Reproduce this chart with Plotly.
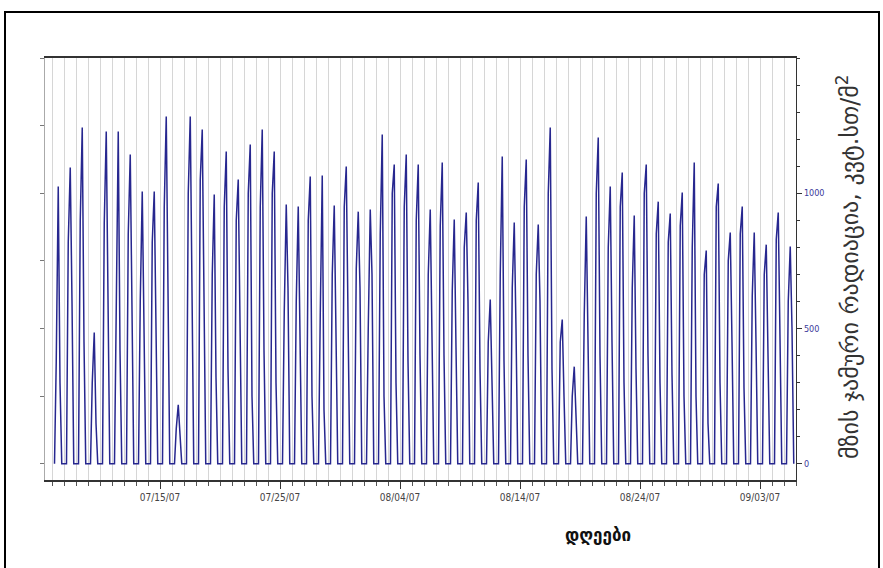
import plotly.graph_objects as go
import pandas as pd

# ---- data ----
first_day = "2007-07-06"
peak = [1025, 1095, 1243, 485, 1228, 1228, 1143, 1006, 1006, 1284, 218, 1284, 1236, 995, 1154,
        1051, 1180, 1236, 1154, 958, 951, 1062, 1066, 955, 1099, 932, 940, 1217, 1106, 1143, 1106,
        940, 1114, 903, 929, 1040, 607, 1136, 892, 1125, 884, 1243, 533, 359, 914, 1206,
        1025, 1077, 918, 1106, 969, 925, 1003, 1114, 788, 1036, 855, 951, 855, 810, 929, 803]
morning = [380, 820, 900, 300, 890, 700, 850, 600, 820, 950, 130, 1000, 1050, 700, 950,
           900, 1000, 950, 1000, 560, 600, 900, 550, 700, 950, 720, 500, 850, 1000, 950, 900,
           700, 880, 640, 800, 900, 450, 700, 650, 950, 700, 1000, 450, 250, 550, 1000,
           800, 950, 650, 1000, 850, 820, 880, 800, 700, 950, 750, 850, 620, 700, 830, 600]
afternoon = [300, 600, 450, 150, 500, 420, 520, 550, 380, 700, 90, 480, 700, 320, 350,
             400, 250, 420, 300, 650, 520, 250, 200, 400, 550, 650, 700, 250, 300, 380, 400,
             420, 400, 430, 600, 350, 250, 380, 500, 400, 600, 350, 250, 150, 420, 400,
             450, 300, 350, 400, 300, 330, 250, 250, 150, 300, 450, 280, 450, 350, 350, 500]

x_tick_start = "2007-07-15"
x_range = ["2007-07-05 10:00", "2007-09-06 00:00"]
y_ticks = [0, 500, 1000]

x_title = "დღეები"
y_title = "მზის ჯამური რადიაცია, კვტ.სთ/მ<sup>2</sup>"

# ---- build the daily series ----
days = pd.date_range(first_day, periods=len(peak), freq="D")
hours = [5.0, 8.5, 12.5, 16.0, 19.5]
xs, ys = [], []
for d, m, p, a in zip(days, morning, peak, afternoon):
    vals = [0, m, p, a, 0]
    for h, v in zip(hours, vals):
        xs.append(d + pd.Timedelta(hours=h))
        ys.append(v)

fig = go.Figure()
fig.add_trace(go.Scatter(x=xs, y=ys, mode="lines",
                         line=dict(color="#27278f", width=1.5),
                         hoverinfo="skip", showlegend=False))
fig.add_trace(go.Scatter(x=[xs[0]], y=[0], mode="markers", yaxis="y2",
                         marker=dict(opacity=0), hoverinfo="skip", showlegend=False))

L, R, T, B = 45, 87, 58, 88
W, H = 883, 568
pw, ph = W - L - R, H - T - B

def px(x):
    return (x - L) / pw

def py(y):
    return (H - B - y) / ph

narrow = "Liberation Sans Narrow, DejaVu Sans Condensed, sans-serif"

fig.update_layout(
    width=W, height=H,
    margin=dict(l=L, r=R, t=T, b=B),
    paper_bgcolor="white", plot_bgcolor="white",
    xaxis=dict(
        type="date", range=x_range,
        tick0=x_tick_start, dtick=864000000, tickformat="%m/%d/%y",
        ticks="outside", ticklen=7, tickcolor="#333",
        showline=True, linecolor="#333", linewidth=1.5, mirror=True,
        showgrid=True, gridcolor="#d6d6d6", gridwidth=1, zeroline=False,
        tickfont=dict(family=narrow, size=10, color="#444"),
        minor=dict(dtick=86400000, tick0=x_tick_start, ticks="outside", ticklen=4,
                   tickcolor="#555", showgrid=True, gridcolor="#d6d6d6"),
    ),
    yaxis=dict(
        side="right", range=[-60, 1500],
        tickvals=y_ticks, ticks="outside", ticklen=5, tickcolor="#333",
        showline=True, linecolor="#333", linewidth=1.2,
        showgrid=False, zeroline=False,
        tickfont=dict(family=narrow, size=9, color="#3a3a9a"),
        minor=dict(dtick=100, tick0=0, ticks="outside", ticklen=3, tickcolor="#333"),
    ),
    yaxis2=dict(
        overlaying="y", side="left", range=[-60, 1500],
        tick0=0, dtick=250, ticks="outside", ticklen=4, tickcolor="#777",
        showticklabels=False, showline=True, linecolor="#aaa", linewidth=1,
        showgrid=False, zeroline=False,
    ),
    annotations=[
        dict(text=x_title, xref="paper", yref="paper", x=px(598), y=py(535),
             showarrow=False, xanchor="center", yanchor="middle",
             font=dict(family="DejaVu Sans", size=17, color="#111", weight="bold")),
        dict(text=y_title, xref="paper", yref="paper", x=px(848), y=py(266),
             showarrow=False, xanchor="center", yanchor="middle", textangle=-90,
             font=dict(family="DejaVu Sans", size=24, color="#333")),
    ],
    shapes=[
        dict(type="rect", xref="paper", yref="paper",
             x0=px(5), x1=px(879), y0=py(575), y1=py(12),
             line=dict(color="black", width=2), fillcolor="rgba(0,0,0,0)", layer="above"),
    ],
)

fig.write_html("out.html", config={"displayModeBar": False},
               post_script="document.body.style.margin='0';")
